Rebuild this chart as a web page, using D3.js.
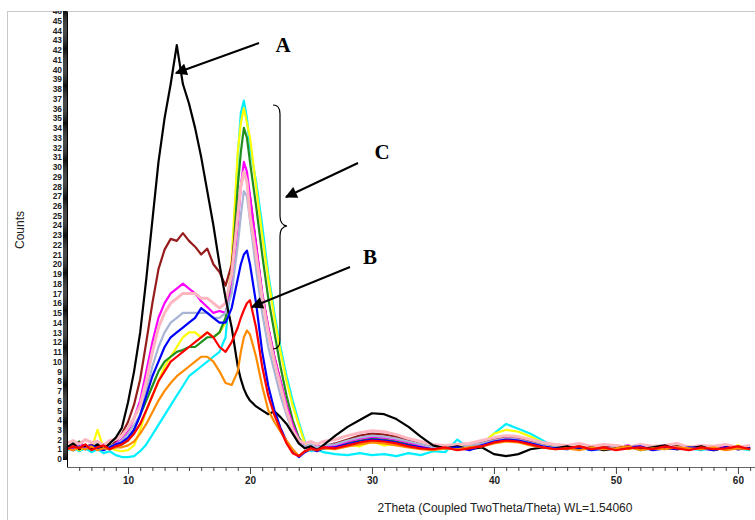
<html>
<head>
<style>
  body { margin: 0; background: #fff; }
  svg { display: block; font-family: "Liberation Sans", Arial, sans-serif; }
  .frame { fill: none; stroke: #c8c8c8; stroke-width: 1; }
  .pattern { fill: none; stroke-linejoin: round; }
  .y-axis text { font-size: 8.4px; fill: #222; font-weight: bold; }
  .x-axis text { font-size: 10px; fill: #222; font-weight: bold; }
  .axis-title { font-size: 12px; fill: #222; }
  .note { font-family: "Liberation Serif", "Times New Roman", serif; font-size: 21px; font-weight: bold; fill: #000; }
  .arrow { stroke: #000; stroke-width: 2; fill: none; }
  .brace { stroke: #000; stroke-width: 1.2; fill: none; }
</style>
<script src="https://cdn.jsdelivr.net/npm/d3@7/dist/d3.min.js"></script>
</head>
<body>
<svg id="svg"></svg>
<script>
  var width = 755,
      height = 520;

  // 2theta grid (deg): 5..19 by .5, 19.25..19.75, 20..26 by .5, 27..61 by 1
  var twoTheta = [5,5.5,6,6.5,7,7.5,8,8.5,9,
    9.5,10,10.5,11,11.5,12,12.5,13,13.5,14,14.5,15,15.5,16,16.5,17,17.5,18,18.5,19,
    19.25,19.5,19.75,
    20,20.5,21,21.5,22,22.5,23,23.5,24,24.5,25,25.5,26,
    27,28,29,30,31,32,33,34,35,36,37,38,39,40,41,42,43,44,45,46,47,48,49,50,51,52,53,54,55,56,57,58,59,60,61];

  var blackCounts = [1.2,1.6,1.0,1.4,1.1,1.5,1.0,1.6,2.2,
    3.2,5.8,9.0,13.0,18.5,24.5,30.5,35.0,38.5,42.5,38.5,36.5,34.0,31.0,27.5,24.0,20.0,16.5,13.5,9.5,
    8.2,7.2,6.5,
    6.0,5.4,5.0,4.6,4.9,4.3,3.6,2.6,1.6,1.1,1.3,0.9,1.4,
    2.4,3.3,4.0,4.7,4.6,4.1,3.3,2.3,1.4,1.1,1.3,1.0,1.2,0.5,0.3,0.5,1.0,1.2,1.1,1.3,1.0,1.2,0.9,1.1,1.3,1.0,1.2,1.4,1.0,1.1,1.3,0.9,1.2,1.0,1.1];

  var maroonCounts = [1.4,1.1,1.7,1.2,1.5,1.0,1.4,1.2,1.8,
    2.6,3.8,5.6,8.2,12.0,16.0,19.5,21.5,22.6,22.4,23.2,22.4,21.8,21.0,21.6,20.0,19.2,17.8,20.0,25.5,
    28.0,29.5,28.6,
    27.0,22.0,17.0,13.5,10.5,8.0,5.5,3.5,1.8,1.2,1.4,1.0,1.3,
    1.6,2.0,2.4,2.6,2.5,2.3,1.9,1.5,1.2,1.3,1.1,1.4,1.7,2.0,2.2,2.1,1.8,1.4,1.2,1.1,1.3,1.0,1.2,1.4,1.1,1.3,1.0,1.2,1.3,1.1,1.0,1.2,1.4,1.1,1.2];

  var cyanCounts = [0.9,1.2,0.8,1.1,0.7,1.0,0.6,0.8,0.4,
    0.2,0.2,0.3,0.8,1.5,2.5,3.5,4.5,5.5,6.5,7.5,8.5,9.0,9.5,10.0,10.5,11.0,12.5,19.5,31.0,
    35.5,36.8,35.0,
    32.0,28.5,24.0,19.0,15.0,11.5,8.5,6.0,3.8,1.8,0.8,1.0,0.7,
    0.5,0.4,0.6,0.4,0.5,0.3,0.6,0.4,0.8,0.7,2.0,1.0,1.5,2.6,3.6,3.1,2.6,1.9,1.2,1.0,1.2,0.9,1.1,1.0,1.3,0.9,1.1,1.2,1.0,1.1,0.9,1.2,1.0,1.1,0.9];

  var yellowCounts = [1.0,1.3,0.9,1.2,1.0,3.0,1.1,1.2,0.9,
    0.8,0.9,1.4,3.0,5.0,6.5,8.0,9.5,10.5,11.5,12.5,13.0,13.0,12.5,13.0,12.5,13.0,14.0,20.5,31.5,
    34.5,36.0,34.5,
    33.0,28.0,23.0,18.5,14.5,11.0,8.0,5.5,3.5,1.6,1.2,0.9,1.2,
    1.2,1.5,1.3,1.8,1.4,1.6,1.3,1.2,1.0,1.2,1.4,1.1,1.6,2.6,3.0,2.8,2.3,1.7,1.3,1.1,1.3,1.0,1.4,1.2,1.0,1.3,1.1,1.2,1.0,1.3,1.1,1.2,1.0,1.4,1.1];

  var greenCounts = [1.1,1.4,1.8,1.2,1.0,1.3,1.1,1.5,1.2,
    1.5,1.9,3.0,4.5,6.0,7.5,9.0,10.0,10.5,11.0,11.2,11.5,11.5,12.0,12.5,12.5,13.0,14.5,19.0,28.0,
    31.5,34.0,33.0,
    30.5,26.0,21.0,16.5,13.0,9.5,6.5,4.0,2.2,1.3,1.2,1.5,1.1,
    1.3,1.6,1.9,2.1,2.0,1.8,1.5,1.3,1.1,1.2,1.0,1.3,1.6,2.0,2.3,2.1,1.8,1.4,1.2,1.1,1.3,1.0,1.2,1.1,1.3,1.0,1.2,1.1,1.4,1.0,1.2,1.1,1.0,1.3,1.1];

  var magentaCounts = [1.3,1.0,1.6,1.2,1.4,1.1,1.5,1.0,1.6,
    2.0,2.8,4.2,6.0,9.0,12.0,14.5,16.0,17.0,17.5,18.0,17.5,17.0,16.2,15.6,15.0,15.2,15.0,17.5,24.0,
    28.0,30.5,29.5,
    27.0,22.0,17.0,13.5,10.5,8.0,5.5,3.5,2.0,1.3,1.1,1.4,1.2,
    1.4,1.8,2.1,2.3,2.2,2.0,1.7,1.4,1.1,1.3,1.2,1.0,1.5,1.9,2.1,2.0,1.6,1.3,1.1,1.2,1.0,1.3,1.1,1.2,1.4,1.0,1.1,1.3,1.2,1.0,1.2,1.1,1.3,1.0,1.2];

  var steelCounts = [1.2,1.5,1.1,1.4,1.2,1.6,1.0,1.3,1.5,
    1.9,2.6,3.5,4.5,7.0,9.5,11.5,13.0,14.0,14.5,15.0,15.0,15.0,15.0,15.0,14.5,14.5,15.0,17.0,22.0,
    25.0,27.5,27.0,
    24.5,19.5,15.0,11.5,9.0,6.5,4.5,2.8,1.6,1.3,1.5,1.2,1.4,
    1.5,1.9,2.2,2.4,2.3,2.1,1.8,1.5,1.2,1.3,1.1,1.4,1.6,1.9,2.1,2.0,1.7,1.4,1.2,1.3,1.1,1.2,1.0,1.3,1.2,1.1,1.3,1.0,1.2,1.1,1.3,1.2,1.0,1.2,1.1];

  var pinkCounts = [1.6,1.9,1.5,2.0,1.7,1.8,1.4,1.9,2.0,
    2.4,3.2,4.2,5.5,8.0,11.0,13.5,15.0,16.0,16.5,17.0,17.0,17.0,16.5,16.5,16.0,15.5,16.0,19.0,25.0,
    28.0,29.5,28.5,
    25.0,21.0,16.5,13.0,10.0,7.5,5.0,3.0,1.9,1.6,1.8,1.5,1.8,
    2.0,2.4,2.7,2.9,2.8,2.5,2.1,1.8,1.5,1.4,1.5,1.6,1.9,2.2,2.4,2.3,2.0,1.7,1.5,1.4,1.6,1.3,1.5,1.4,1.2,1.5,1.3,1.4,1.6,1.2,1.4,1.3,1.5,1.2,1.4];

  var blueCounts = [1.2,0.9,1.3,1.0,1.4,1.1,0.9,1.2,1.5,
    1.7,2.2,3.0,4.5,6.5,8.5,10.0,11.5,12.5,13.0,13.5,14.0,14.5,15.5,15.0,14.5,14.0,14.0,15.5,18.5,
    20.0,21.0,21.4,
    20.0,16.0,11.0,7.5,5.0,3.2,1.8,0.8,0.2,0.7,1.0,0.8,1.1,
    1.2,1.5,1.8,2.0,1.9,1.7,1.4,1.2,1.0,1.1,1.2,0.9,1.4,1.8,2.0,1.9,1.6,1.3,1.1,1.0,1.2,0.9,1.1,1.0,1.2,1.3,0.9,1.1,1.0,1.2,1.1,0.9,1.2,1.0,1.1];

  var orangeCounts = [1.1,0.9,1.2,1.0,1.3,0.9,1.1,1.0,1.2,
    1.2,1.4,1.8,2.6,3.6,4.8,6.0,7.0,7.8,8.5,9.0,9.5,10.0,10.5,10.5,10.0,9.0,7.8,7.6,9.0,
    11.0,12.5,13.2,
    12.8,10.5,7.5,5.0,3.8,2.8,1.9,1.0,0.3,0.8,1.0,0.9,1.1,
    1.0,1.3,1.5,1.7,1.6,1.4,1.2,1.0,0.9,1.1,1.0,1.2,1.3,1.6,1.8,1.7,1.4,1.2,1.0,1.1,0.9,1.2,1.0,1.1,1.3,0.9,1.1,1.0,1.2,1.1,1.0,1.2,0.9,1.1,1.0];

  var redCounts = [1.0,1.3,1.1,1.5,0.9,1.2,1.4,1.0,1.3,
    1.5,1.9,2.6,3.6,5.0,6.5,8.0,9.0,10.0,10.5,11.0,11.5,12.0,12.5,13.0,12.5,11.5,11.0,12.0,13.5,
    14.5,15.3,16.0,
    16.3,13.5,9.5,6.5,4.5,3.0,1.6,0.6,0.3,0.8,1.1,0.9,1.2,
    1.1,1.4,1.7,1.9,1.8,1.6,1.3,1.1,1.0,1.2,0.9,1.1,1.3,1.7,1.9,1.8,1.5,1.2,1.0,1.1,1.3,1.0,1.2,0.9,1.1,1.2,1.0,1.3,1.1,0.9,1.2,1.0,1.1,1.3,1.0];

  // drawing order, bottom first
  var series = [
    {name: "cyan", color: "#00f0ff", values: cyanCounts},
    {name: "yellow", color: "#ffff00", values: yellowCounts},
    {name: "green", color: "#1f8f1f", values: greenCounts},
    {name: "maroon", color: "#961c1c", values: maroonCounts},
    {name: "magenta", color: "#ff00ff", values: magentaCounts},
    {name: "steel", color: "#a9b3d3", values: steelCounts},
    {name: "pink", color: "#ffb6c1", values: pinkCounts},
    {name: "black", color: "#000000", values: blackCounts},
    {name: "blue", color: "#0000ff", values: blueCounts},
    {name: "orange", color: "#ff8c00", values: orangeCounts},
    {name: "red", color: "#ff0000", values: redCounts}
  ];

  var xTicks = d3.range(6, 62);
  var yLabels = d3.range(0, 47);

  var svg = d3.select("#svg")
     .attr("width", width)
     .attr("height", height);

  svg.append("rect")
     .attr("class", "frame")
     .attr("x", 7.5).attr("y", 11.5)
     .attr("width", width).attr("height", height);

  var x = d3.scaleLinear().domain([5, 61.4]).range([67, 755]);
  var y = d3.scaleLinear().domain([-0.82, 46]).range([467, 11]);

  // everything above the frame top is cut off
  svg.append("clipPath").attr("id", "clip")
     .attr("clipPathUnits", "userSpaceOnUse")
     .append("rect").attr("x", -200).attr("y", 11).attr("width", 1200).attr("height", height);

  var line = d3.line()
     .x((d, i) => x(twoTheta[i]))
     .y(d => y(d));

  var plot = svg.append("g").attr("clip-path", "url(#clip)");

  plot.selectAll("path.pattern").data(series)
    .enter().append("path")
      .attr("class", "pattern")
      .attr("stroke", d => d.color)
      .attr("stroke-width", d => d.name === "pink" ? 3 : 2.2)
      .attr("d", d => line(d.values));

  // y axis: dense minor ticks make the black band, integer labels
  var yAxis = d3.axisLeft(y)
     .tickValues(d3.range(0, 46.01, 0.1))
     .tickSizeInner(4)
     .tickSizeOuter(0)
     .tickPadding(1)
     .tickFormat(d => {
       var r = Math.round(d);
       return (Math.abs(d - r) < 1e-6 && yLabels.indexOf(r) >= 0) ? r : "";
     });

  var gy = svg.append("g")
     .attr("clip-path", "url(#clip)")
   .append("g")
     .attr("class", "y-axis")
     .attr("transform", "translate(67,0)")
     .call(yAxis);
  gy.select(".domain").attr("stroke", "#000");
  gy.selectAll(".tick line").attr("stroke", "#111");

  // x axis
  var xAxis = d3.axisBottom(x)
     .tickValues(xTicks)
     .tickSizeInner(4)
     .tickSizeOuter(0)
     .tickPadding(6)
     .tickFormat(d => d % 10 === 0 ? d : "");

  var gx = svg.append("g")
     .attr("class", "x-axis")
     .attr("transform", "translate(0,467)")
     .call(xAxis);
  gx.select(".domain").attr("stroke", "#666");
  gx.selectAll(".tick line")
     .attr("stroke", "#444")
     .attr("y2", d => d % 10 === 0 ? 7 : 4);

  svg.append("text")
     .attr("class", "axis-title")
     .attr("transform", "translate(24,230) rotate(-90)")
     .attr("text-anchor", "middle")
     .text("Counts");

  svg.append("text")
     .attr("class", "axis-title")
     .attr("x", 505).attr("y", 512)
     .attr("text-anchor", "middle")
     .text("2Theta (Coupled TwoTheta/Theta) WL=1.54060");

  // annotations
  svg.append("defs").append("marker")
     .attr("id", "head")
     .attr("viewBox", "0 0 10 10")
     .attr("refX", 9).attr("refY", 5)
     .attr("markerWidth", 7).attr("markerHeight", 6)
     .attr("markerUnits", "strokeWidth")
     .attr("orient", "auto")
   .append("path")
     .attr("d", "M0,0 L10,5 L0,10 Z")
     .attr("fill", "#000");

  var notes = [
    {label: "A", tx: 283, ty: 52, x1: 259, y1: 43, x2: 176, y2: 73},
    {label: "C", tx: 382, ty: 159, x1: 358, y1: 163, x2: 286, y2: 197},
    {label: "B", tx: 370, ty: 264, x1: 350, y1: 267, x2: 252, y2: 307}
  ];

  notes.forEach(n => {
    svg.append("line")
       .attr("class", "arrow")
       .attr("x1", n.x1).attr("y1", n.y1)
       .attr("x2", n.x2).attr("y2", n.y2)
       .attr("marker-end", "url(#head)");
    svg.append("text")
       .attr("class", "note")
       .attr("x", n.tx).attr("y", n.ty)
       .attr("text-anchor", "middle")
       .text(n.label);
  });

  svg.append("path")
     .attr("class", "brace")
     .attr("d", "M273,105 Q280,105 280,114 L280,216 Q280,225 287,226 Q280,227 280,236 L280,340 Q280,349 273,349");
</script>
</body>
</html>
